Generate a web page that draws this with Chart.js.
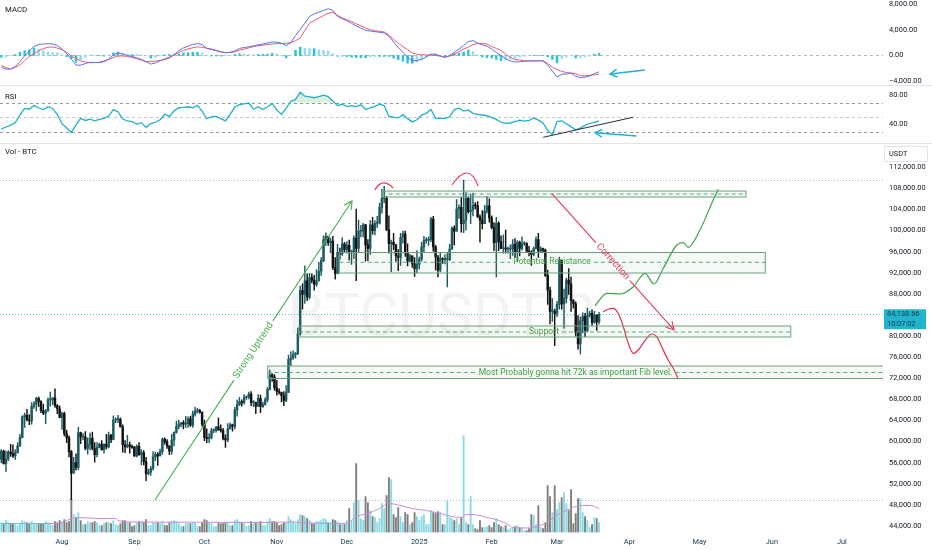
<!DOCTYPE html>
<html>
<head>
<meta charset="utf-8">
<title>BTCUSDT.P 1D</title>
<script src="https://cdn.jsdelivr.net/npm/chart.js@4.4.1/dist/chart.umd.min.js"></script>
<style>
  html, body { margin: 0; padding: 0; background: #fff; overflow: hidden; }
  #wrap { position: relative; width: 932px; height: 550px; }
  canvas { position: absolute; left: 0; }
  #macd { top: 0; }
  #rsi { top: 86px; }
  #price { top: 144px; }
</style>
</head>
<body>
<div id="wrap">
  <canvas id="macd" width="932" height="86"></canvas>
  <canvas id="rsi" width="932" height="58"></canvas>
  <canvas id="price" width="932" height="406"></canvas>
</div>
<script>
// x unit everywhere: days since 1 Aug 2024
const firstCandleDay = -27; // 5 Jul 2024

// daily candles [open, high, low, close]
const jul24 = [
  [57000,57500,53500,56600],[56600,58500,56000,58200],[58200,58400,55700,55800],[55800,58200,54300,56700],
  [56700,58300,56400,58000],[58000,59500,57200,57700],[57700,59400,57000,57300],[57300,58500,56600,57900],
  [57900,59800,57800,59200],[59200,61400,59100,60800],[60800,64900,60700,64700],[64700,65400,62700,65000],
  [65000,66100,63900,64100],[64100,65100,63200,63900],[63900,67400,63300,66700],[66700,67600,66300,67100],
  [67100,68400,65800,68200],[68200,68500,66600,67600],[67600,67800,65500,65900],[65900,67100,65100,65400],
  [65400,66100,63400,65800],[65800,68300,65700,67900],[67900,69400,66700,67900],[67900,68300,67000,68300],
  [68300,70000,66500,66800],[66800,67000,65300,66200],[66200,66800,64500,64600]
];
const aug24 = [
  [64600,65600,62300,65300],[65300,65600,61100,61500],[61500,62200,59800,60700],[60700,61100,57100,58100],
  [58100,58300,49000,54000],[54000,57000,54000,56000],[56000,57700,54600,55100],[55100,62700,54700,61700],
  [61700,61800,59600,60900],[60900,61500,60300,60900],[60900,61900,58400,58700],[58700,60700,57600,59400],
  [59400,61600,58400,60600],[60600,61800,58400,58700],[58700,59800,56100,57500],[57500,59800,57100,58900],
  [58900,59700,58800,59500],[59500,60200,58400,58400],[58400,59600,57800,59500],[59500,61400,58600,59000],
  [59000,61800,58800,61200],[61200,61400,59800,60400],[60400,64900,60300,64100],[64100,64500,63600,64200],
  [64200,65000,63600,64200],[64200,64500,62800,62800],[62800,63200,58000,59400],[59400,60200,57900,59000],
  [59000,61200,58800,59400],[59400,59900,57800,59100],[59100,59400,58700,58900]
];
const sep24 = [
  [58900,59100,57200,57300],[57300,59400,57100,59100],[59100,59800,57400,57500],[57500,58500,55600,57900],
  [57900,58300,55600,56200],[56200,57000,52600,53900],[53900,54800,53700,54200],[54200,55300,53600,54900],
  [54900,58100,54600,57100],[57100,58000,56400,57600],[57600,57900,55500,57300],[57300,58600,57300,58100],
  [58100,60700,57600,60500],[60500,60700,59500,60000],[60000,60400,58700,59200],[59200,59200,57500,58200],
  [58200,61400,57600,60300],[60300,61800,59200,61800],[61800,63900,61600,62900],[62900,64100,62400,63300],
  [63300,63600,62800,63600],[63600,64000,62400,63300],[63300,64800,62700,63400],[63400,64700,62700,64300],
  [64300,64800,62900,63100],[63100,65800,62700,65200],[65200,66500,64800,65800],[65800,66300,65400,65900],
  [65900,66100,65400,65600],[65600,65600,62900,63300]
];
const oct24 = [
  [63300,64100,60200,60800],[60800,62400,59800,60600],[60600,61500,59800,60800],[60800,62500,60500,62100],
  [62100,62400,61700,62100],[62100,62900,61800,62800],[62800,64500,62100,62200],[62200,63200,61800,62100],
  [62100,62500,60300,60600],[60600,61300,58900,60300],[60300,63400,60000,62400],[62400,63500,62400,63200],
  [63200,63300,62000,62900],[62900,66500,62400,66000],[66000,67900,64800,67000],[67000,68400,66800,67600],
  [67600,67900,66700,67400],[67400,68900,67100,68400],[68400,68700,68000,68400],[68400,69400,68100,69000],
  [69000,69500,66800,67400],[67400,67800,66600,67400],[67400,67500,65300,66700],[66700,68900,66600,68200],
  [68200,68800,65500,66600],[66600,67500,66500,67000],[67000,68300,66900,67900],[67900,70300,67500,69900],
  [69900,73600,69800,72700],[72700,72900,71400,72300],[72300,72700,69700,70200]
];
const nov24 = [
  [70200,71600,68800,69500],[69500,70000,69000,69300],[69300,69400,67500,68700],[68700,69500,66800,67800],
  [67800,70600,67500,69300],[69300,76400,69300,75600],[75600,77000,74400,75900],[75900,77200,75600,76500],
  [76500,76900,75800,76700],[76700,81500,76500,80400],[80400,89500,80200,88700],[88700,89900,85100,87900],
  [87900,93300,86200,90500],[90500,91800,86700,87400],[87400,91900,87000,91100],[91100,91800,90100,90600],
  [90600,91500,88700,89800],[89800,92600,89400,90500],[90500,94000,90400,92300],[92300,94900,91500,94300],
  [94300,99000,94100,98300],[98300,99600,97200,98900],[98900,98900,97200,97700],[97700,98600,95800,98000],
  [98000,98900,92600,93000],[93000,94900,90800,91900],[91900,97400,91800,95900],[95900,96700,94600,95600],
  [95600,98700,95300,97500],[97500,97800,96000,96400]
];
const dec24 = [
  [96400,97900,95700,97200],[97200,98200,94400,95800],[95800,96300,93600,96000],[96000,99000,94700,98600],
  [98600,104100,90500,96600],[96600,102000,95900,99900],[99900,101000,98800,99900],[99900,101400,98800,101100],
  [101100,101200,94200,97300],[97300,98300,94300,96600],[96600,101900,95500,101100],[101100,102500,99300,100000],
  [100000,101900,99200,101400],[101400,102700,100600,101400],[101400,105200,101200,104400],[104400,107800,103300,106100],
  [106100,108400,105300,106100],[106100,106500,100000,100200],[100200,102800,95700,97500],[97500,98200,92200,97800],
  [97800,99500,96400,97300],[97300,97400,94200,95200],[95200,96400,92400,94900],[94900,99500,93400,98700],
  [98700,99900,97600,99400],[99400,99900,95100,95800],[95800,97500,93300,94200],[94200,95500,94100,95200],
  [95200,95200,93000,93700],[93700,94900,91300,92800],[92800,96200,92000,93600]
];
const jan25 = [
  [93600,95000,92700,94600],[94600,97800,94200,96900],[96900,98900,96000,98100],[98100,98700,97600,98200],
  [98200,98800,97200,98300],[98300,102500,97900,102200],[102200,102700,96100,96900],[96900,97200,92500,95000],
  [95000,95300,91200,92500],[92500,95800,92200,94700],[94700,94900,93800,94500],[94500,95400,93700,94500],
  [94500,95900,89300,94500],[94500,97400,94300,96500],[96500,100700,96500,100500],[100500,100900,97300,99900],
  [99900,105900,99900,104100],[104100,104900,102300,104400],[104400,106300,99700,101300],[101300,109600,99600,102000],
  [102000,107200,100100,106100],[106100,106400,103300,103600],[103600,106900,101300,103900],[103900,107100,102800,104800],
  [104800,105300,104100,104700],[104700,105500,102500,102600],[102600,103000,97800,102000],[102000,103800,100300,101300],
  [101300,104800,101300,103700],[103700,106500,103300,104700],[104700,106000,101600,102400]
];
const feb25 = [
  [102400,102800,100300,100600],[100600,101500,96200,97700],[97700,102500,91200,101400],[101400,101700,96200,97900],
  [97900,99000,96600,96600],[96600,99200,95700,96600],[96600,100100,95700,96500],[96500,96900,95700,96500],
  [96500,97300,94700,96500],[96500,98300,95300,97400],[97400,98500,94900,95800],[95800,98100,94100,97800],
  [97800,98000,95200,96600],[96600,98800,96300,97500],[97500,97900,97200,97600],[97600,97700,96000,96100],
  [96100,97000,95200,95800],[95800,96200,93400,95500],[95500,96900,95200,96600],[96600,98800,96500,98300],
  [98300,99500,94900,96100],[96100,96900,95800,96600],[96600,96700,95800,96300],[96300,96500,91300,91500],
  [91500,92500,86000,88700],[88700,89300,82300,84700],[84700,87100,82800,84700],[84700,85100,78200,84300]
];
const mar25 = [
  [84300,86600,83700,86000],[86000,95000,85100,94300],[94300,94400,85100,86100],[86100,88900,81500,87200],
  [87200,91000,86300,90600],[90600,92800,87900,89900],[89900,91200,84700,86700],[86700,86900,85300,86100],
  [86100,86500,80000,80700],[80700,83900,77500,78500],[78500,83600,76600,82900],[82900,84400,80600,83700],
  [83700,84300,79900,81100],[81100,85300,80800,83900],[83900,84700,83600,84300],[84300,85000,82000,82600],
  [82600,84700,82400,84000],[84000,84100,81100,82700],[82700,84500,82300,84138.66]
];

// daily volume, thousand BTC
const volJul24 = [14,10,9,12,10,9,9,8,7,9,12,11,10,9,11,8,8,9,9,9,11,10,8,7,11,10,12];
const volAug24 = [11,13,10,11,33,18,15,20,12,8,8,11,10,10,11,10,7,7,9,10,10,9,12,8,7,9,12,12,10,10,6];
const volSep24 = [7,10,11,11,10,13,7,7,10,10,10,9,11,7,7,10,11,12,11,9,6,6,9,9,9,10,10,6,6,10];
const volOct24 = [13,12,10,9,6,6,10,9,9,10,10,7,7,12,13,11,10,9,6,7,11,9,10,10,11,7,7,11,14,11,11];
const volNov24 = [10,7,8,10,10,16,13,11,9,13,18,17,16,14,12,9,9,11,11,12,14,13,10,10,13,12,11,8,9,8];
const volDec24 = [12,24,12,30,69,32,14,12,36,30,22,16,15,10,14,29,24,37,55,53,18,15,25,16,10,20,18,8,10,20,16];
const volJan25 = [12,16,18,8,8,22,20,19,21,20,8,8,32,15,14,12,14,8,15,97,10,8,36,8,4,3,12,5,5,6,7];
const volFeb25 = [5,10,14,8,6,5,7,3,4,5,6,7,5,4,2,2,4,18,17,8,27,5,4,10,47,36,20,47];
const volMar25 = [23,30,35,40,29,22,43,9,19,34,34,20,16,12,5,8,15,14,10];

// volume moving average
const volMaDays = [-26,-1,3,6,16,23,24,30,59,85,98,102,115,122,126,131,136,140,145,150,
  156,162,167,171,173,176,182,186,191,193,199,202,206,209,213,216,219,222,226,230];
const volMaValues = [9,9,13,15,14,14,12,10.5,10.3,10,10.5,10,9,9.3,16,19,24,29,27,24,
  22,19,16,15,18,18,15,13,8,5,4.5,5.3,8,12,19,22,25.3,27,27,24];

const indicatorFirstDay = -26;
const macdLine = [
  -1820,-2120,-2100,-1700,-955,-50,700,1400,1700,1780,
  1830,1780,1560,1000,300,-550,-1500,-1500,-1250,-1054,
  -1090,-1110,-950,-550,80,420,260,0,-140,-360,
  -600,-950,-1330,-1160,-800,-530,-240,160,720,1180,
  1450,1700,1840,1700,1110,920,740,530,420,500,
  700,1080,1250,1340,1490,1670,1780,1920,2100,2070,
  1900,1540,2000,3100,4000,5000,6050,6450,6700,7000,
  7250,7000,6050,5700,5380,4980,4590,4250,3900,3800,
  3700,3600,3500,3000,2100,1250,500,-300,-800,-800,
  -600,-220,200,200,-90,-300,-10,470,1000,1550,
  2150,2300,1950,1650,1450,1020,480,0,-500,-830,
  -990,-980,-890,-850,-840,-810,-850,-1450,-2400,-3350,
  -2900,-2870,-2700,-3200,-3420,-3360,-3190,-2800,-2520
];
const signalLine = [
  -1560,-1880,-2100,-1850,-1473,-800,-150,260,750,1050,
  1300,1320,1150,900,500,-100,-450,-850,-1000,-1116,
  -1100,-1060,-850,-620,-330,-90,-60,-150,-300,-500,
  -730,-950,-930,-870,-780,-640,-400,80,450,780,
  1020,1200,1330,1280,1130,1000,820,610,460,470,
  560,820,1010,1180,1380,1510,1600,1700,1780,1830,
  1860,1890,2000,2300,2700,3900,5000,5400,5800,6200,
  6550,6700,6250,5850,5550,5250,4900,4600,4250,4000,
  3850,3750,3650,3150,2500,1900,1400,900,400,200,
  100,80,80,0,-100,-200,-100,200,600,1000,
  1300,1700,1850,1870,1780,1400,1100,800,200,-300,
  -600,-720,-790,-840,-860,-830,-810,-1250,-1800,-2200,
  -2450,-2650,-2730,-2800,-3100,-3150,-3080,-3000,-2870
];
const rsiLine = [
  33.5,36.5,39.0,42.5,53.0,62.0,61.0,66.0,63.0,60.5,
  64.5,62.0,53.5,41.0,35.0,29.0,39.5,48.5,45.5,47.3,
  45.0,47.0,48.5,51.5,60.5,57.6,47.5,45.0,44.0,40.6,
  42.5,36.0,41.0,43.0,46.5,54.0,51.0,58.5,63.0,63.6,
  64.4,63.0,66.5,58.5,47.8,50.5,51.0,48.0,45.0,54.0,
  64.0,67.3,68.5,69.5,61.0,64.4,60.5,64.0,69.0,60.0,
  54.0,62.5,72.0,74.5,84.5,79.0,78.0,76.8,78.3,80.5,
  78.5,72.0,66.0,67.8,64.5,66.0,64.5,67.0,60.5,63.0,
  65.0,68.0,66.0,51.0,50.0,49.0,53.5,48.0,43.5,46.5,
  53.0,55.3,60.5,48.4,48.4,48.4,50.5,60.5,62.5,58.5,
  60.0,55.3,54.0,53.0,52.0,49.5,47.0,43.0,41.5,42.0,
  44.0,46.0,44.5,45.5,49.0,46.0,42.0,31.5,25.8,44.0,
  45.0,41.0,37.0,32.5,35.0,38.6,41.3,43.0,45.0
];

// axes
const monthLabels = ["Aug","Sep","Oct","Nov","Dec","2025","Feb","Mar","Apr","May","Jun","Jul"];
const monthDays = [0,31,61,92,122,153,184,212,243,273,304,334];
const priceTicks = [44000,48000,52000,56000,60000,64000,68000,72000,76000,80000,84000,88000,92000,96000,100000,104000,108000,112000];
const macdTicks = [8000,4000,0,-4000];
const rsiTicks = [80,40];
const rsiBands = [70,50,30];
const lastPrice = 84138.66;
const barCountdown = "10:07:02";

// drawings on the chart, in chart units [day, price]
const zones = [
  { from: 136.9, to: 292.9, top: 107500, bottom: 106370, mid: 106940 },
  { from: 118.8, to: 301.2, top: 95850, bottom: 91960, mid: 93990, text: "Potential Resistance", textAt: 209.9 },
  { from: 101.5, to: 312.1, top: 81915, bottom: 79830, mid: 80780, text: "Support", textAt: 206.4 },
  { from: 88.1, to: 400, top: 74330, bottom: 71960, mid: 73100, text: "Most Probably gonna hit 72k as important Fib level.", textAt: 219.9 }
];
const trendLines = [
  { a: [39.8, 48930], b: [124.2, 105610], text: "Strong Uptrend", color: "#4caf50" },
  { a: [209.7, 107070], b: [262.1, 81160], text: "Correction", color: "#e5395a" }
];
const peakArcs = [
  [[134.0, 107700], [137.5, 109030], [141.8, 108080]],
  [[167.0, 108650], [173.4, 110920], [178.2, 108460]]
];
const bullPathDays = [228.3,233.3,239.0,244.7,249.7,253.5,257.5,263.3,266.1,268.2,273.2,278.9,281.1];
const bullPathPrices = [85760,88110,87980,89370,91900,89880,92850,97270,97710,96830,100110,105800,107830];
const bearPathDays = [231.8,234.0,236.1,238.2,240.4,242.5,244.7,246.8,250.4,252.5,254.7,256.8,259.6,261.8,263.9];
const bearPathPrices = [84630,85140,85270,84320,81780,78640,76740,77370,79580,80400,79890,77990,75470,73900,71870];
const macdArrow = { a: [249.7, -2250], b: [234.7, -2870] };
const rsiArrow = { a: [246.1, 24.1], b: [228.3, 28.6] };
const rsiTrend = { a: [206.1, 22.3], b: [244.7, 50.0] };

// view ranges
const xMin = -26.55, xMax = 351.6;
const priceMin = 42768, priceMax = 116417;
const volMax = 388.5;
const macdMin = -4574, macdMax = 8605;
const rsiMin = 14.4, rsiMax = 93.0;

const FONT = 'Roboto, "Liberation Sans", Arial, sans-serif';
const TEXT = '#131722';
const UP = '#1c5b62', DOWN = '#111111';
const CYAN = '#1fb3cf';

const candles = [jul24, aug24, sep24, oct24, nov24, dec24, jan25, feb25, mar25].flat();
const volumes = [volJul24, volAug24, volSep24, volOct24, volNov24, volDec24, volJan25, volFeb25, volMar25].flat();
const days = candles.map((c, i) => firstCandleDay + i);
const rising = candles.map(c => c[3] >= c[0]);

function fmt(v) {
  return v.toLocaleString('en-US', { minimumFractionDigits: 2, maximumFractionDigits: 2 }).replace('-', '\u2212');
}

function arrowHead(ctx, x1, y1, x2, y2, len) {
  const a = Math.atan2(y2 - y1, x2 - x1);
  ctx.beginPath();
  ctx.moveTo(x2 - len * Math.cos(a - 0.5), y2 - len * Math.sin(a - 0.5));
  ctx.lineTo(x2, y2);
  ctx.lineTo(x2 - len * Math.cos(a + 0.5), y2 - len * Math.sin(a + 0.5));
  ctx.stroke();
}

function hLine(ctx, area, y, color, dash) {
  ctx.save();
  ctx.strokeStyle = color;
  ctx.lineWidth = 1;
  ctx.setLineDash(dash);
  ctx.beginPath();
  ctx.moveTo(area.left, Math.round(y) + 0.5);
  ctx.lineTo(area.right, Math.round(y) + 0.5);
  ctx.stroke();
  ctx.restore();
}

function axisLabels(ctx, scale, values) {
  ctx.save();
  ctx.font = '7.4px ' + FONT;
  ctx.fillStyle = TEXT;
  ctx.textBaseline = 'middle';
  ctx.textAlign = 'left';
  values.forEach(v => ctx.fillText(fmt(v), 889, scale.getPixelForValue(v)));
  ctx.restore();
}

function separator(chart) {
  const ctx = chart.ctx;
  ctx.save();
  ctx.strokeStyle = '#e0e3eb';
  ctx.lineWidth = 1;
  ctx.beginPath();
  ctx.moveTo(0, chart.height - 0.5);
  ctx.lineTo(chart.width, chart.height - 0.5);
  ctx.stroke();
  ctx.restore();
}

function paneTitle(ctx, text, y) {
  ctx.save();
  ctx.font = '7.8px ' + FONT;
  ctx.fillStyle = TEXT;
  ctx.textBaseline = 'middle';
  ctx.fillText(text, 5, y);
  ctx.restore();
}

const baseOptions = (padBottom) => ({
  responsive: false,
  animation: false,
  events: [],
  layout: { padding: { left: 0, right: 49, top: 0, bottom: padBottom } },
  plugins: { legend: { display: false }, tooltip: { enabled: false } }
});

// ---------- MACD pane ----------
const macdDays = macdLine.map((m, i) => indicatorFirstDay + 2 * i);
const histogram = macdLine.map((m, i) => m - signalLine[i]);
const histColors = histogram.map((h, i) => {
  const prev = i ? histogram[i - 1] : h;
  return Math.abs(h) >= Math.abs(prev) ? '#2cc3d8' : '#8edfea';
});

const macdOverlay = {
  id: 'macdOverlay',
  beforeDatasetsDraw(chart) {
    hLine(chart.ctx, chart.chartArea, chart.scales.y.getPixelForValue(0), '#b2b5be', [3, 3]);
  },
  afterDraw(chart) {
    const ctx = chart.ctx, x = chart.scales.x, y = chart.scales.y;
    paneTitle(ctx, 'MACD', 10);
    axisLabels(ctx, y, macdTicks);
    const ax = x.getPixelForValue(macdArrow.a[0]), ay = y.getPixelForValue(macdArrow.a[1]);
    const bx = x.getPixelForValue(macdArrow.b[0]), by = y.getPixelForValue(macdArrow.b[1]);
    ctx.save();
    ctx.strokeStyle = CYAN;
    ctx.lineWidth = 1.5;
    ctx.beginPath(); ctx.moveTo(ax, ay); ctx.lineTo(bx, by); ctx.stroke();
    arrowHead(ctx, ax, ay, bx, by, 8);
    ctx.restore();
    separator(chart);
  }
};

new Chart(document.getElementById('macd'), {
  type: 'bar',
  data: {
    datasets: [
      { type: 'line', data: macdDays.map((d, i) => ({ x: d, y: macdLine[i] })), borderColor: '#5b6ff2', borderWidth: 1, pointRadius: 0, order: 1 },
      { type: 'line', data: macdDays.map((d, i) => ({ x: d, y: signalLine[i] })), borderColor: '#f05a6b', borderWidth: 1, pointRadius: 0, order: 2 },
      { data: macdDays.map((d, i) => ({ x: d, y: histogram[i] })), backgroundColor: histColors, barThickness: 1.8, grouped: false, order: 3 }
    ]
  },
  options: Object.assign(baseOptions(1), {
    scales: {
      x: { type: 'linear', min: xMin, max: xMax, offset: false, display: false },
      y: { type: 'linear', min: macdMin, max: macdMax, display: false }
    }
  }),
  plugins: [macdOverlay]
});

// ---------- RSI pane ----------
const rsiOverlay = {
  id: 'rsiOverlay',
  beforeDatasetsDraw(chart) {
    const y = chart.scales.y;
    rsiBands.forEach(b => hLine(chart.ctx, chart.chartArea, y.getPixelForValue(b), b === 50 ? '#c3c6ce' : '#9598a1', [3, 3]));
  },
  afterDraw(chart) {
    const ctx = chart.ctx, x = chart.scales.x, y = chart.scales.y;
    paneTitle(ctx, 'RSI', 10.7);
    axisLabels(ctx, y, rsiTicks);
    ctx.save();
    ctx.strokeStyle = '#2a2e39';
    ctx.lineWidth = 1;
    ctx.beginPath();
    ctx.moveTo(x.getPixelForValue(rsiTrend.a[0]), y.getPixelForValue(rsiTrend.a[1]));
    ctx.lineTo(x.getPixelForValue(rsiTrend.b[0]), y.getPixelForValue(rsiTrend.b[1]));
    ctx.stroke();
    const ax = x.getPixelForValue(rsiArrow.a[0]), ay = y.getPixelForValue(rsiArrow.a[1]);
    const bx = x.getPixelForValue(rsiArrow.b[0]), by = y.getPixelForValue(rsiArrow.b[1]);
    ctx.strokeStyle = CYAN;
    ctx.lineWidth = 1.5;
    ctx.beginPath(); ctx.moveTo(ax, ay); ctx.lineTo(bx, by); ctx.stroke();
    arrowHead(ctx, ax, ay, bx, by, 8);
    ctx.restore();
    separator(chart);
  }
};

new Chart(document.getElementById('rsi'), {
  type: 'line',
  data: {
    datasets: [{
      data: macdDays.map((d, i) => ({ x: d, y: rsiLine[i] })),
      borderColor: '#1fb0cb', borderWidth: 1.3, pointRadius: 0,
      fill: { target: { value: 70 }, above: 'rgba(76,175,80,0.2)', below: 'rgba(0,0,0,0)' }
    }]
  },
  options: Object.assign(baseOptions(1), {
    scales: {
      x: { type: 'linear', min: xMin, max: xMax, offset: false, display: false },
      y: { type: 'linear', min: rsiMin, max: rsiMax, display: false }
    }
  }),
  plugins: [rsiOverlay]
});

// ---------- price pane ----------
const priceOverlay = {
  id: 'priceOverlay',
  beforeDatasetsDraw(chart) {
    const ctx = chart.ctx, area = chart.chartArea, y = chart.scales.y;
    ctx.save();
    ctx.font = '60px ' + FONT;
    ctx.fillStyle = 'rgba(120,123,134,0.09)';
    ctx.textAlign = 'center';
    ctx.textBaseline = 'alphabetic';
    ctx.fillText('BTCUSDT.P', 441, 191);
    ctx.restore();
    const hi = Math.max(...candles.map(c => c[1]));
    const lo = Math.min(...candles.map(c => c[2]));
    hLine(ctx, area, y.getPixelForValue(hi), '#b8bbc3', [1, 2]);
    hLine(ctx, area, y.getPixelForValue(lo), '#b8bbc3', [1, 2]);
    hLine(ctx, area, y.getPixelForValue(lastPrice), '#58c2d4', [1, 2]);
  },
  afterDatasetsDraw(chart) {
    const ctx = chart.ctx, area = chart.chartArea;
    const X = v => chart.scales.x.getPixelForValue(v);
    const Y = v => chart.scales.y.getPixelForValue(v);
    ctx.save();
    ctx.beginPath();
    ctx.rect(area.left, area.top, area.right - area.left, area.bottom - area.top);
    ctx.clip();

    zones.forEach(z => {
      const x1 = X(z.from), x2 = X(z.to), yt = Y(z.top), yb = Y(z.bottom), ym = Y(z.mid);
      ctx.fillStyle = 'rgba(100,170,115,0.07)';
      ctx.fillRect(x1, yt, x2 - x1, yb - yt);
      ctx.strokeStyle = '#6f9d7c';
      ctx.lineWidth = 1;
      ctx.setLineDash([]);
      ctx.strokeRect(x1, yt, x2 - x1, yb - yt);
      ctx.font = '8.5px ' + FONT;
      ctx.strokeStyle = '#58ab86';
      ctx.setLineDash([4, 3]);
      ctx.beginPath();
      if (z.text) {
        const cx = X(z.textAt), half = ctx.measureText(z.text).width / 2 + 3;
        ctx.moveTo(x1, ym); ctx.lineTo(cx - half, ym);
        ctx.moveTo(cx + half, ym); ctx.lineTo(x2, ym);
        ctx.stroke();
        ctx.setLineDash([]);
        ctx.fillStyle = '#43a047';
        ctx.textAlign = 'center';
        ctx.textBaseline = 'middle';
        ctx.fillText(z.text, cx, ym);
      } else {
        ctx.moveTo(x1, ym); ctx.lineTo(x2, ym);
        ctx.stroke();
      }
    });
    ctx.setLineDash([]);

    trendLines.forEach(t => {
      const ax = X(t.a[0]), ay = Y(t.a[1]), bx = X(t.b[0]), by = Y(t.b[1]);
      const len = Math.hypot(bx - ax, by - ay), ux = (bx - ax) / len, uy = (by - ay) / len;
      const mx = (ax + bx) / 2, my = (ay + by) / 2;
      ctx.font = '9.7px ' + FONT;
      const half = ctx.measureText(t.text).width / 2 + 3;
      ctx.strokeStyle = t.color;
      ctx.lineWidth = 1.1;
      ctx.beginPath();
      ctx.moveTo(ax, ay); ctx.lineTo(mx - ux * half, my - uy * half);
      ctx.moveTo(mx + ux * half, my + uy * half); ctx.lineTo(bx, by);
      ctx.stroke();
      arrowHead(ctx, ax, ay, bx, by, 9);
      ctx.save();
      ctx.translate(mx, my);
      ctx.rotate(Math.atan2(by - ay, bx - ax));
      ctx.fillStyle = t.color;
      ctx.textAlign = 'center';
      ctx.textBaseline = 'middle';
      ctx.fillText(t.text, 0, 0);
      ctx.restore();
    });

    ctx.strokeStyle = '#e5395a';
    ctx.lineWidth = 1.2;
    peakArcs.forEach(p => {
      const p0 = [X(p[0][0]), Y(p[0][1])], p1 = [X(p[1][0]), Y(p[1][1])], p2 = [X(p[2][0]), Y(p[2][1])];
      const cx = 2 * p1[0] - (p0[0] + p2[0]) / 2, cy = 2 * p1[1] - (p0[1] + p2[1]) / 2;
      ctx.beginPath();
      ctx.moveTo(p0[0], p0[1]);
      ctx.quadraticCurveTo(cx, cy, p2[0], p2[1]);
      ctx.stroke();
    });
    ctx.restore();
  },
  afterDraw(chart) {
    const ctx = chart.ctx, area = chart.chartArea;
    const X = v => chart.scales.x.getPixelForValue(v);
    const y = chart.scales.y;
    paneTitle(ctx, 'Vol - BTC', 8);
    axisLabels(ctx, y, priceTicks);

    // unit box
    ctx.save();
    ctx.strokeStyle = '#e0e3eb';
    ctx.lineWidth = 1;
    ctx.strokeRect(884.5, 2.5, 43, 15);
    ctx.font = '7.4px ' + FONT;
    ctx.fillStyle = TEXT;
    ctx.textBaseline = 'middle';
    ctx.fillText('USDT', 889, 10);

    // last price label
    const py = y.getPixelForValue(lastPrice);
    ctx.fillStyle = '#22b4cc';
    ctx.fillRect(884, py - 5, 42, 20);
    ctx.fillStyle = '#0f3a4f';
    ctx.fillText(fmt(lastPrice), 887, py);
    ctx.fillText(barCountdown, 887, py + 9.5);

    // time axis
    ctx.textAlign = 'center';
    monthLabels.forEach((m, i) => ctx.fillText(m, X(monthDays[i]), area.bottom + 10));
    ctx.restore();
  }
};

const wickData = candles.map((c, i) => ({ x: days[i], y: [c[2], c[1]] }));
const bodyData = candles.map((c, i) => ({ x: days[i], y: [c[0], c[3]] }));
const candleColors = rising.map(r => r ? UP : DOWN);

new Chart(document.getElementById('price'), {
  type: 'bar',
  data: {
    datasets: [
      { type: 'line', data: bullPathDays.map((d, i) => ({ x: d, y: bullPathPrices[i] })), borderColor: '#3fa34d', borderWidth: 1.2, pointRadius: 0, cubicInterpolationMode: 'monotone', yAxisID: 'y', order: 0 },
      { type: 'line', data: bearPathDays.map((d, i) => ({ x: d, y: bearPathPrices[i] })), borderColor: '#e5304a', borderWidth: 1.2, pointRadius: 0, cubicInterpolationMode: 'monotone', yAxisID: 'y', order: 0 },
      { data: bodyData, backgroundColor: candleColors, barThickness: 1.8, minBarLength: 1, grouped: false, yAxisID: 'y', order: 1 },
      { data: wickData, backgroundColor: candleColors, barThickness: 0.8, grouped: false, yAxisID: 'y', order: 2 },
      { type: 'line', data: volMaDays.map((d, i) => ({ x: d, y: volMaValues[i] })), borderColor: '#cc8bd4', borderWidth: 1, pointRadius: 0, cubicInterpolationMode: 'monotone', yAxisID: 'vol', order: 4 },
      { data: volumes.map((v, i) => ({ x: days[i], y: v })), backgroundColor: rising.map(r => r ? '#8ad8e4' : '#7d7d7d'), barThickness: 1.2, grouped: false, yAxisID: 'vol', order: 5 }
    ]
  },
  options: Object.assign(baseOptions(17.5), {
    scales: {
      x: { type: 'linear', min: xMin, max: xMax, offset: false, display: false },
      y: { type: 'linear', min: priceMin, max: priceMax, display: false },
      vol: { type: 'linear', axis: 'y', min: 0, max: volMax, display: false }
    }
  }),
  plugins: [priceOverlay]
});
</script>
</body>
</html>
